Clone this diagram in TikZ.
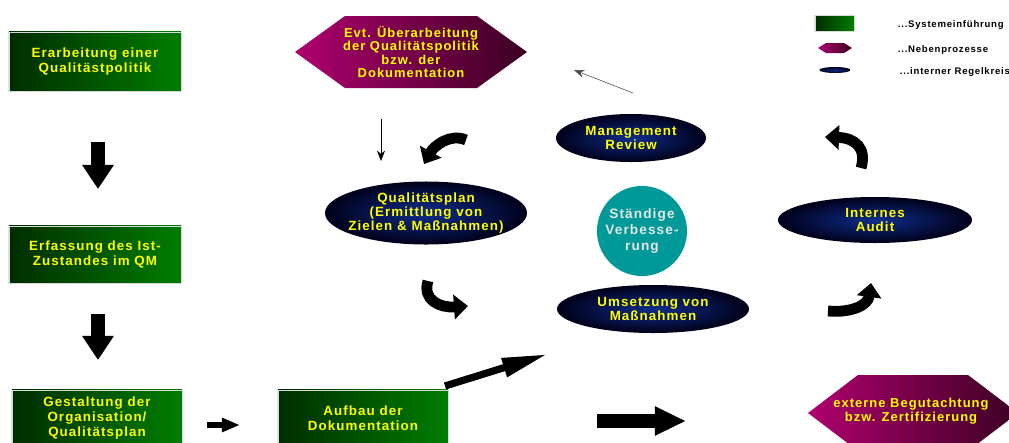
\documentclass[tikz,border=0pt]{standalone}
\usepackage{fontspec}
\setmainfont{Liberation Sans}[LetterSpace=8]
\usetikzlibrary{shapes.geometric,arrows.meta}

\definecolor{sysdunkel}{RGB}{0,45,0}
\definecolor{syshell}{RGB}{0,125,0}
\definecolor{nebenhell}{RGB}{175,0,110}
\definecolor{nebendunkel}{RGB}{60,0,35}
\definecolor{regelmitte}{RGB}{15,45,140}
\definecolor{regelrand}{RGB}{0,0,25}
\definecolor{qmgelb}{RGB}{255,255,0}
\definecolor{verbtuerkis}{RGB}{0,153,153}

\begin{document}
\begin{tikzpicture}[x=0.025cm, y=-0.025cm,
  einf/.style={rectangle, left color=sysdunkel, right color=syshell, draw=gray!30, very thin,
    text=qmgelb, align=center, inner sep=0pt, minimum width=4.3cm, minimum height=1.45cm,
    font=\bfseries\fontsize{9.5}{10.7}\selectfont},
  regel/.style={ellipse, inner color=regelmitte, outer color=regelrand, inner sep=0pt},
  rtext/.style={text=qmgelb, align=center, font=\bfseries\fontsize{9.5}{10.2}\selectfont},
  neben/.style={left color=nebenhell, right color=nebendunkel},
  ntext/.style={text=qmgelb, align=center, font=\bfseries\fontsize{9.2}{9.6}\selectfont},
  blockpfeil/.style={line width=0.35cm, -{Triangle[width=0.75cm,length=0.6cm]}},
  kreispfeil/.style={line width=0.27cm, -{Triangle[width=0.6cm,length=0.35cm]}},
  duenn/.style={thin, -{Stealth[length=2.6mm,width=2mm]}},
  legtext/.style={anchor=west, font=\bfseries\fontsize{6.8}{7.5}\selectfont}]

  % Frame
  \useasboundingbox (0,0) rectangle (1009,442);
  \clip (0,0) rectangle (1009,442);
  \fill[white] (0,0) rectangle (1009,442);

  % Left column: introducing the system
  \node[einf, minimum height=1.475cm] (erarb) at (95,61.5) {Erarbeitung einer\\Qualitästpolitik};
  \node[einf, minimum height=1.425cm] (erfass) at (95,254.5) {Erfassung des Ist-\\Zustandes im QM};
  \node[einf, minimum width=4.25cm, minimum height=1.4cm] (gestalt) at (97,418) {Gestaltung der\\Organisation/\\Qualitätsplan};
  \node[einf, minimum width=4.25cm, minimum height=1.4cm] (aufbau) at (363,418) {Aufbau der\\Dokumentation};

  % Arrow ends
  \coordinate (p1a) at (98,142);  \coordinate (p1b) at (98,189);
  \coordinate (p2a) at (98,314);  \coordinate (p2b) at (98,360);
  \coordinate (p3a) at (207,425); \coordinate (p3b) at (240,425);
  \coordinate (p4a) at (445,386); \coordinate (p4b) at (548,354);
  \coordinate (p5a) at (597,421); \coordinate (p5b) at (686,421);

  \draw[blockpfeil] (p1a) -- (p1b);
  \draw[blockpfeil] (p2a) -- (p2b);
  \draw[line width=0.13cm, -{Triangle[width=0.33cm,length=0.45cm]}] (p3a) -- (p3b);
  \draw[line width=0.18cm, -{Triangle[width=0.45cm,length=1.15cm]}] (p4a) -- (p4b);
  \draw[line width=0.37cm, -{Triangle[width=0.68cm,length=0.78cm]}] (p5a) -- (p5b);

  % Side processes
  \path[neben] (295,52) -- (345,16) -- (477,16) -- (527,52) -- (477,88) -- (345,88) -- cycle;
  \node[ntext] (evt) at (411,52) {Evt. Überarbeitung\\der Qualitätspolitik\\bzw. der\\Dokumentation};
  \path[neben] (808,413) -- (858,375) -- (968,375) -- (1018,413) -- (968,451) -- (858,451) -- cycle;
  \node[ntext] (extern) at (911,411) {externe Begutachtung\\bzw. Zertifizierung};

  % Internal control loop
  \node[regel, minimum width=3.75cm, minimum height=1.2cm,
    label={[rtext]center:Management\\Review}] (review) at (631,138) {};
  \node[regel, minimum width=5.05cm, minimum height=1.575cm,
    label={[rtext]center:Qualitätsplan\\(Ermittlung von\\Zielen \& Maßnahmen)}] (qplan) at (426,213) {};
  \node[regel, minimum width=4.85cm, minimum height=1.15cm,
    label={[rtext]center:Internes\\Audit}] (audit) at (875,220) {};
  \node[regel, minimum width=4.8cm, minimum height=1.2cm,
    label={[rtext]center:Umsetzung von\\Maßnahmen}] (umsetz) at (653,309) {};
  \node[circle, fill=verbtuerkis, minimum size=2.25cm, inner sep=0pt,
    label={[rtext, text=gray!20, font=\bfseries\fontsize{9.7}{11.2}\selectfont]center:Ständige\\Verbesse-\\rung}] (verb) at (642,231) {};

  % Curved loop arrows
  \coordinate (k1a) at (466,140); \coordinate (k1b) at (424,164);
  \coordinate (k2a) at (428,281); \coordinate (k2b) at (468,306);
  \coordinate (k3a) at (828,311); \coordinate (k3b) at (871,283);
  \coordinate (k4a) at (861,168); \coordinate (k4b) at (825,137);
  \draw[kreispfeil] (k1a) .. controls (450,133) and (434,146) .. (k1b);
  \draw[kreispfeil] (k2a) .. controls (422,300) and (440,308) .. (k2b);
  \draw[kreispfeil] (k3a) .. controls (852,313) and (868,305) .. (k3b);
  \draw[kreispfeil] (k4a) .. controls (867,148) and (855,138) .. (k4b);

  % Thin arrows
  \coordinate (d1a) at (381,119); \coordinate (d1b) at (381,161);
  \coordinate (d2a) at (633,93);  \coordinate (d2b) at (574,70);
  \draw[duenn] (d1a) -- (d1b);
  \draw[duenn, draw=gray!60!black] (d2a) -- (d2b);

  % Legend
  \node[einf, minimum width=0.98cm, minimum height=0.4cm] (legsys) at (834.5,23) {};
  \path[neben] (818,48) -- (826,43) -- (844,43) -- (852,48) -- (844,53) -- (826,53) -- cycle;
  \node[regel, minimum width=0.78cm, minimum height=0.15cm] (legregel) at (835,70) {};
  \node[legtext] (legt1) at (893,25) {...Systemeinführung};
  \node[legtext] (legt2) at (893,50) {...Nebenprozesse};
  \node[legtext] (legt3) at (895,72) {...interner Regelkreis};

\end{tikzpicture}
\end{document}
